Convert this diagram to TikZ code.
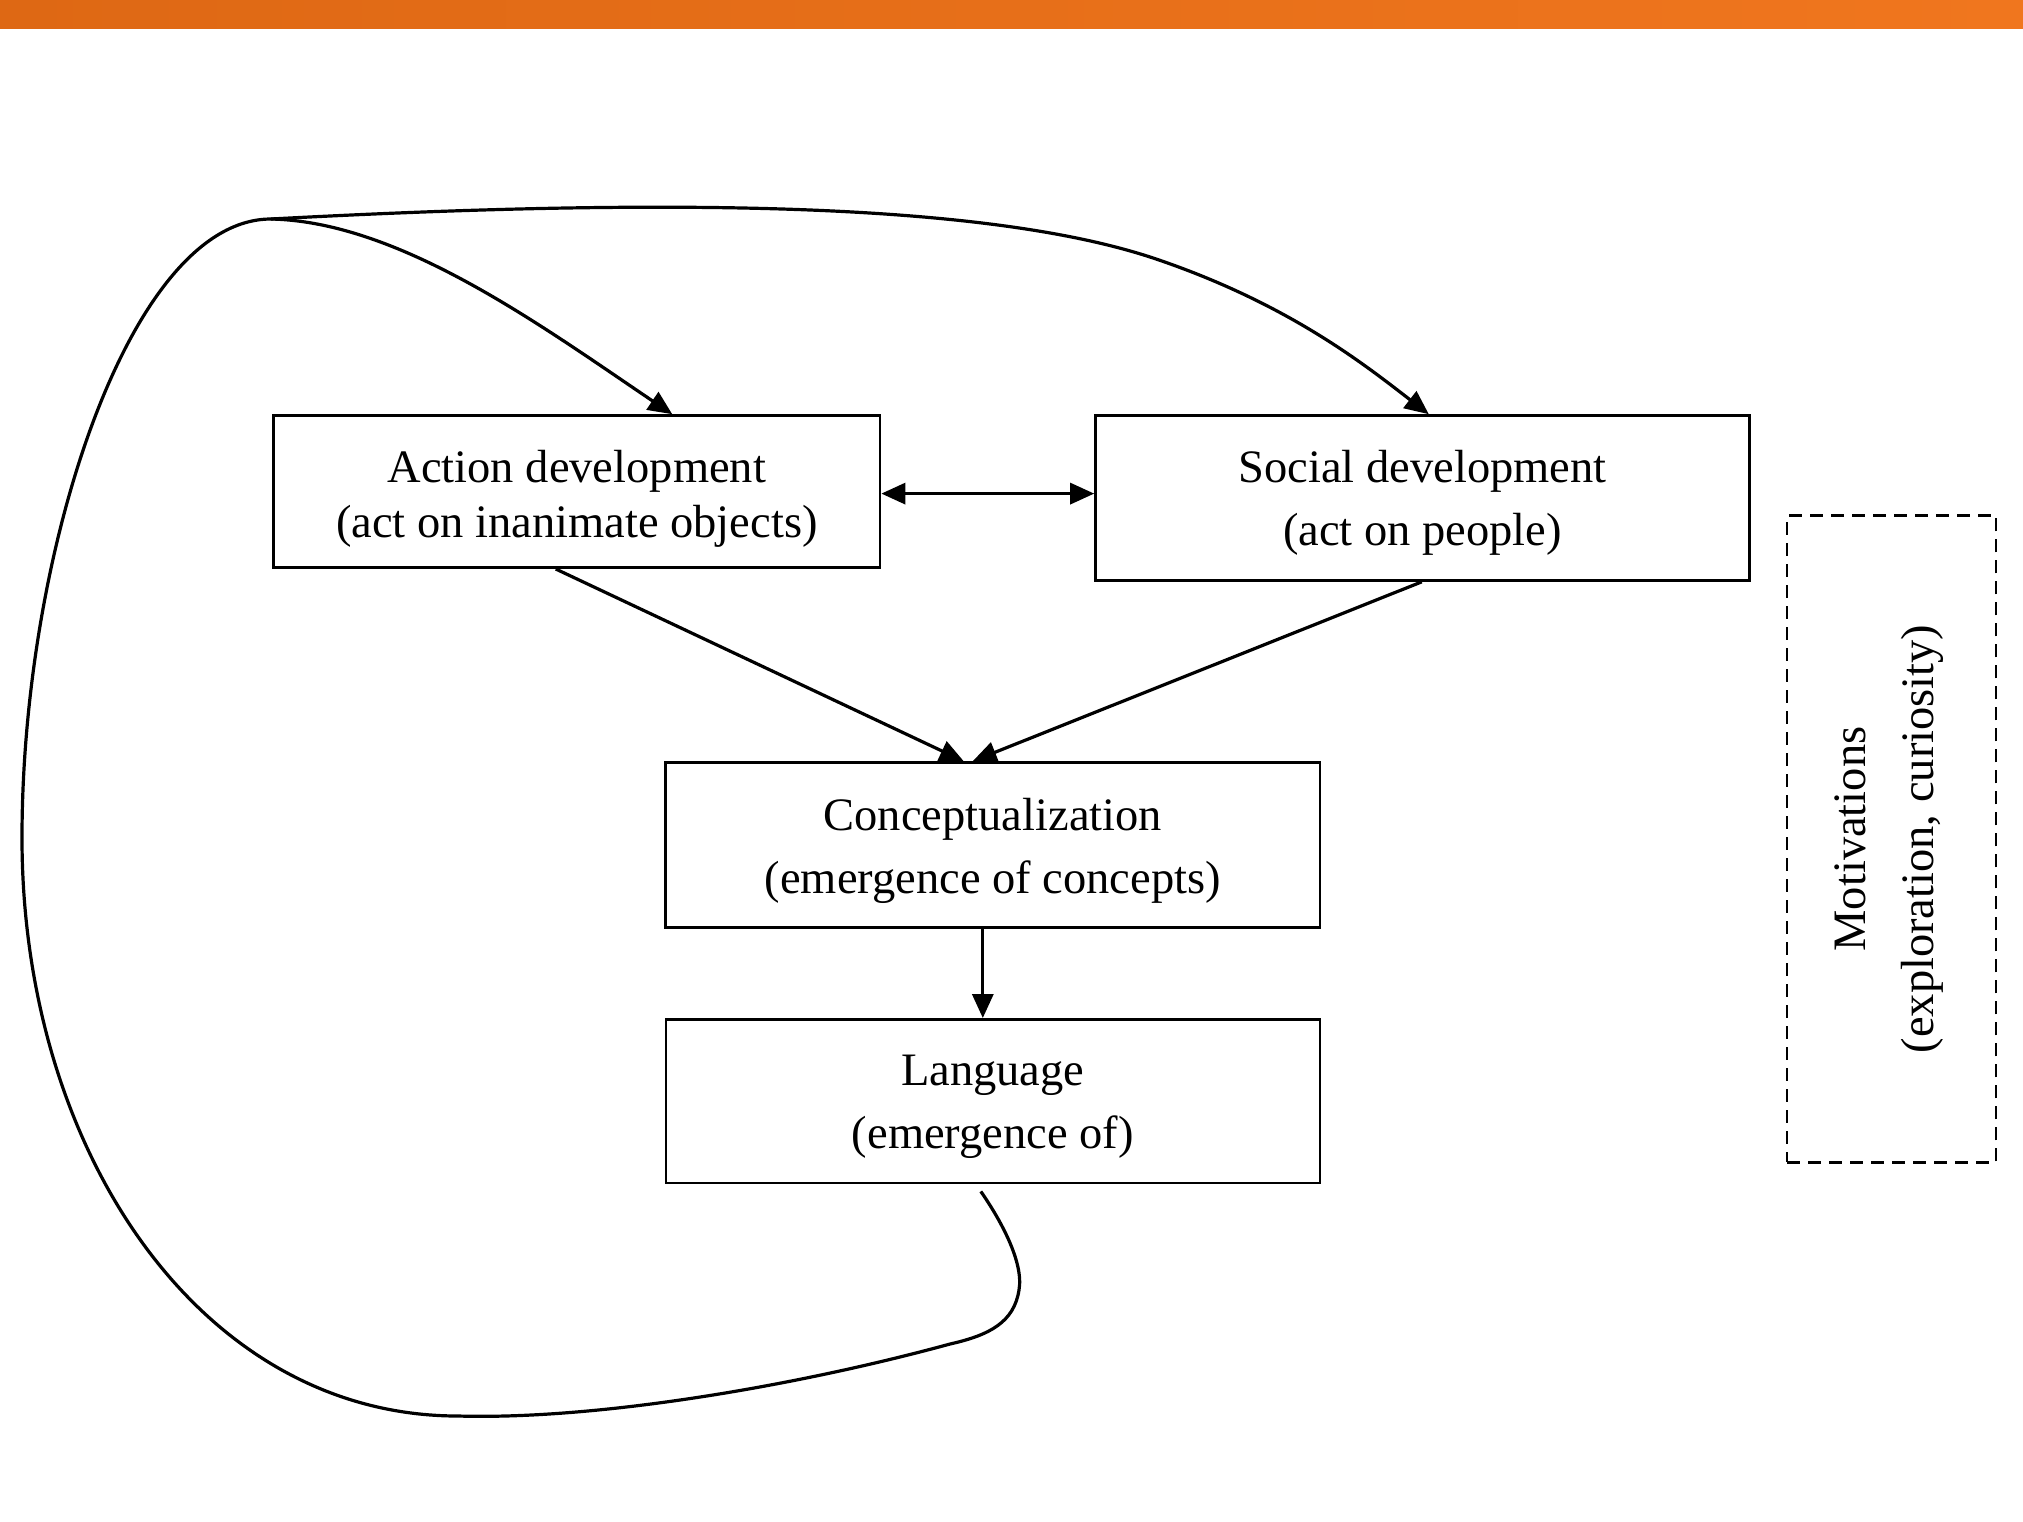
\documentclass[tikz,border=0pt]{standalone}
\usepackage{fontspec}
\setmainfont{Liberation Serif}
\usetikzlibrary{arrows.meta,calc}
\definecolor{barL}{HTML}{DE6814}
\definecolor{barR}{HTML}{F0761E}
\begin{document}
\begin{tikzpicture}[x=1pt,y=-1pt,
  box/.style={draw,line width=2.6pt,inner sep=0pt},
  txt/.style={align=center,inner sep=0pt,font=\fontsize{46.5}{63}\selectfont},
  conn/.style={line width=3.2pt,-{Triangle[length=24pt,width=21pt]}},
  loopline/.style={line width=3.2pt}]
\useasboundingbox (0,0) rectangle (2023,1521);
\shade[left color=barL,right color=barR] (0,0) rectangle (2023,28);

\node[box,minimum width=606.5pt,minimum height=152.2pt] (act) at (576.8,491.6) {};
\node[box,minimum width=654pt,minimum height=165pt] (soc) at (1422.5,498) {};
\node[box,minimum width=654.2pt,minimum height=165.2pt] (con) at (992.8,845.1) {};
\node[box,minimum width=654pt,minimum height=163.8pt] (lang) at (992.8,1101.2) {};
\node[box,dashed,dash pattern=on 13pt off 8pt,minimum width=209pt,minimum height=646.5pt] (mot) at (1891.5,839) {};

\node[txt,font=\fontsize{46.5}{55}\selectfont] (actT) at ([yshift=-7pt]act.center) {Action development\\(act on inanimate objects)};
\node[txt] (socT) at ([yshift=-5pt]soc.center) {Social development\\(act on people)};
\node[txt] (conT) at ([yshift=-6pt]con.center) {Conceptualization\\(emergence of concepts)};
\node[txt] (langT) at ([yshift=-6pt]lang.center) {Language\\(emergence of)};
\node[txt,rotate=90,font=\fontsize{46.5}{68}\selectfont] (motT) at ([xshift=-2pt]mot.center) {Motivations\\(exploration, curiosity)};

\coordinate (ls) at ($(lang.south)+(-12,7)$);
\coordinate (j) at (271,219);
\coordinate (aT) at ([xshift=400pt]act.north west);
\coordinate (sT) at ([xshift=334.6pt]soc.north west);

\draw[loopline] (ls) .. controls (1000,1219) and (1024,1262) .. (1019,1290)
  .. controls (1014,1322) and (990,1335) .. (950,1344)
  .. controls (800,1385) and (600,1420) .. (458,1416)
  .. controls (200,1416) and (22,1150) .. (22,838)
  .. controls (22,550) and (130,219) .. (j);
\draw[conn] (j) .. controls (700,196) and (1000,205) .. (1159,260)
  .. controls (1290,305) and (1365,365) .. (sT);
\draw[conn] (j) .. controls (400,222) and (540,325) .. (aT);

\draw[line width=3.2pt,{Triangle[length=24pt,width=21pt]}-{Triangle[length=24pt,width=21pt]}] ([yshift=-2pt]act.east) -- ([yshift=-2pt]act.east -| soc.west);
\draw[conn] ([xshift=283.5pt]act.south west) -- ([xshift=299.3pt]con.north west);
\draw[conn] ([xshift=327.6pt]soc.south west) -- ([xshift=308.3pt]con.north west);
\draw[conn] ([xshift=-10pt]con.south) -- ([xshift=-10pt]lang.north);
\end{tikzpicture}
\end{document}
